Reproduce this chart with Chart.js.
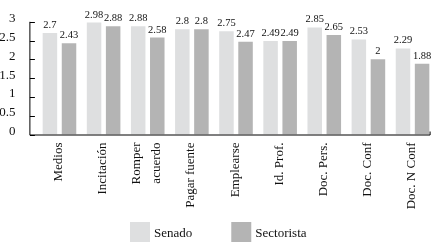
<!DOCTYPE html>
<html>
<head>
<meta charset="utf-8">
<script src="https://cdn.jsdelivr.net/npm/chart.js@4/dist/chart.umd.min.js"></script>
<style>
html,body{margin:0;padding:0;background:#fff;}
#wrap{width:436px;height:250px;position:relative;}
</style>
</head>
<body>
<div id="wrap"><canvas id="c" width="436" height="250"></canvas></div>
<script>
const categories = ["Medios", "Incitación", ["Romper", "acuerdo"], "Pagar fuente", "Emplearse", "Id. Prof.", "Doc. Pers.", "Doc. Conf", "Doc. N Conf"];
const senado = [2.7, 2.98, 2.88, 2.8, 2.75, 2.49, 2.85, 2.53, 2.29];
const sectorista = [2.43, 2.88, 2.58, 2.8, 2.47, 2.49, 2.65, 2, 1.88];
const yTicks = [0, 0.5, 1, 1.5, 2, 2.5, 3];
const seriesNames = ["Senado", "Sectorista"];

const FONT = "'Liberation Serif', serif";
const TXT = '#111';

const axesPlugin = {
  id: 'axesPlugin',
  afterDraw(chart) {
    const ctx = chart.ctx;
    const ys = chart.scales.y;
    const xs = chart.scales.x;
    const ca = chart.chartArea;
    const axX = ca.left - 8;
    const y0 = ys.getPixelForValue(0);
    const yTop = ys.getPixelForValue(3);
    ctx.save();
    ctx.strokeStyle = '#000';
    ctx.lineWidth = 1;
    ctx.beginPath();
    ctx.moveTo(axX + 0.5, yTop);
    ctx.lineTo(axX + 0.5, y0 + 0.5);
    ctx.lineTo(ca.right - 4.5, y0 + 0.5);
    ctx.lineTo(ca.right - 4.5, y0 - 3);
    yTicks.forEach(v => {
      const py = Math.round(ys.getPixelForValue(v)) + 0.5;
      ctx.moveTo(axX + 0.5, py);
      ctx.lineTo(axX + 5.5, py);
    });
    ctx.stroke();

    // category labels, rotated (reading bottom to top)
    ctx.fillStyle = TXT;
    ctx.font = '13px ' + FONT;
    ctx.textAlign = 'right';
    ctx.textBaseline = 'alphabetic';
    const lineGap = 20;
    xs.getLabels().forEach((lab, i) => {
      const lines = Array.isArray(lab) ? lab : [lab];
      const px = xs.getPixelForTick(i);
      lines.forEach((ln, k) => {
        const bx = px + 2.5 + (k - (lines.length - 1) / 2) * lineGap;
        ctx.save();
        ctx.translate(bx, y0 + 8);
        ctx.rotate(-Math.PI / 2);
        ctx.fillText(ln, 0, 0);
        ctx.restore();
      });
    });

    // value labels
    ctx.font = '10.5px ' + FONT;
    ctx.textAlign = 'center';
    ctx.textBaseline = 'alphabetic';
    chart.data.datasets.forEach((ds, di) => {
      const meta = chart.getDatasetMeta(di);
      meta.data.forEach((el, i) => {
        ctx.fillText(String(ds.data[i]), el.x, el.y - 5);
      });
    });

    // legend
    ctx.font = '13px ' + FONT;
    ctx.textAlign = 'left';
    ctx.textBaseline = 'middle';
    const box = 20, txtOff = 24, gap = 39;
    const widths = chart.data.datasets.map(ds => ctx.measureText(ds.label).width);
    let total = 0;
    widths.forEach((w, i) => { total += txtOff + w + (i < widths.length - 1 ? gap : 0); });
    let x = Math.round((chart.width - total) / 2);
    const by = 222;
    chart.data.datasets.forEach((ds, i) => {
      ctx.fillStyle = ds.backgroundColor;
      ctx.fillRect(x, by, box, box);
      ctx.fillStyle = TXT;
      ctx.fillText(ds.label, x + txtOff, by + box / 2 + 2);
      x += txtOff + widths[i] + gap;
    });
    ctx.restore();
  }
};

Chart.defaults.font.family = FONT;
new Chart(document.getElementById('c'), {
  type: 'bar',
  data: {
    labels: categories,
    datasets: [
      { label: seriesNames[0], data: senado, backgroundColor: '#dedfe0', categoryPercentage: 0.865, barPercentage: 0.76 },
      { label: seriesNames[1], data: sectorista, backgroundColor: '#b4b4b4', categoryPercentage: 0.865, barPercentage: 0.76 }
    ]
  },
  options: {
    responsive: false,
    animation: false,
    devicePixelRatio: 1,
    layout: { padding: { top: 18, right: 1.4, bottom: 35.5, left: 0 } },
    plugins: { legend: { display: false }, tooltip: { enabled: false } },
    scales: {
      x: {
        grid: { display: false },
        border: { display: false },
        ticks: { display: false },
        afterFit(s) { s.height = 80; }
      },
      y: {
        min: 0, max: 3,
        grid: { display: false },
        border: { display: false },
        afterBuildTicks(s) { s.ticks = yTicks.map(v => ({ value: v })); },
        ticks: {
          padding: 14, labelOffset: -3, color: TXT, font: { family: FONT, size: 13 },
          callback: v => String(v)
        },
        afterFit(s) { s.width = 37.4; }
      }
    }
  },
  plugins: [axesPlugin]
});
</script>
</body>
</html>
